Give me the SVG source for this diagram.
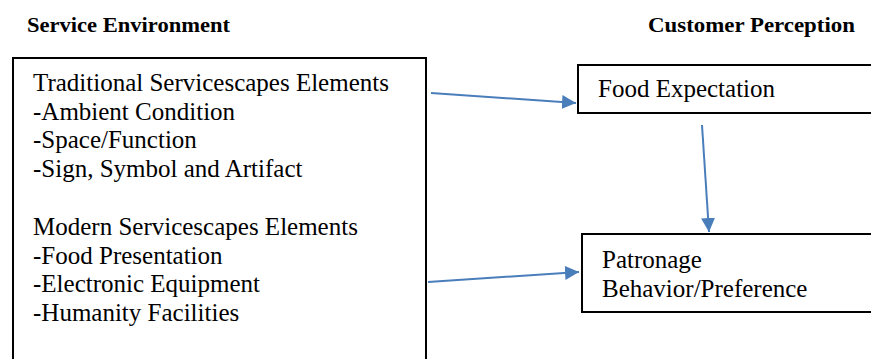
<svg xmlns="http://www.w3.org/2000/svg" width="871" height="359" viewBox="0 0 871 359">
<style>
.box{fill:#fff;stroke:#000;stroke-width:2}
.t{font-family:"Liberation Serif","Times New Roman",serif;font-size:25px;fill:#000}
.h{font-family:"Liberation Serif","Times New Roman",serif;font-size:22px;font-weight:bold;fill:#000}
.c{stroke:#4a7ebb;stroke-width:2;fill:none;marker-end:url(#ah)}
</style>
<defs>
<marker id="ah" viewBox="0 0 10 10" refX="10" refY="5" markerWidth="7" markerHeight="7" markerUnits="strokeWidth" orient="auto">
<path d="M0,0 L10,5 L0,10 z" fill="#4a7ebb"/>
</marker>
</defs>
<rect width="871" height="359" fill="#fff"/>
<text class="h" x="27" y="32" textLength="203" lengthAdjust="spacingAndGlyphs">Service Environment</text>
<text class="h" x="648" y="32" textLength="207" lengthAdjust="spacingAndGlyphs">Customer Perception</text>
<g id="service-environment">
<rect class="box" x="13" y="58" width="413" height="310"/>
<text class="t" x="33" y="91">Traditional Servicescapes Elements</text>
<text class="t" x="33" y="120">-Ambient Condition</text>
<text class="t" x="33" y="148">-Space/Function</text>
<text class="t" x="33" y="177">-Sign, Symbol and Artifact</text>
<text class="t" x="33" y="235">Modern Servicescapes Elements</text>
<text class="t" x="33" y="264">-Food Presentation</text>
<text class="t" x="33" y="292">-Electronic Equipment</text>
<text class="t" x="33" y="321">-Humanity Facilities</text>
</g>
<g id="food-expectation">
<rect class="box" x="578" y="65" width="300" height="48"/>
<text class="t" x="598" y="97">Food Expectation</text>
</g>
<g id="patronage">
<rect class="box" x="582" y="234" width="300" height="78"/>
<text class="t" x="602" y="268">Patronage</text>
<text class="t" x="602" y="297">Behavior/Preference</text>
</g>
<g id="connectors">
<line class="c" x1="431" y1="93" x2="576" y2="103"/>
<line class="c" x1="428" y1="282" x2="579" y2="272"/>
<line class="c" x1="702" y1="125" x2="709" y2="232"/>
</g>
</svg>
